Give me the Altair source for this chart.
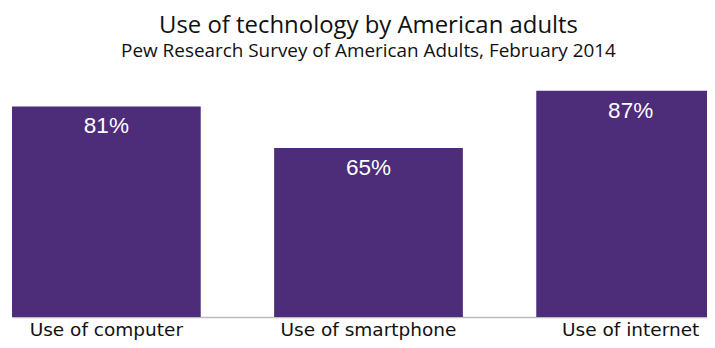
import altair as alt
import pandas as pd

categories = ["Use of computer", "Use of smartphone", "Use of internet"]
values = [81, 65, 87]
value_labels = ["81%", "65%", "87%"]

df = pd.DataFrame({"category": categories, "value": values, "label": value_labels})

PURPLE = "#4d2c7a"

x = alt.X(
    "category:N",
    sort=categories,
    title=None,
    scale=alt.Scale(range=[4, 717], paddingInner=0.28, paddingOuter=0),
    axis=alt.Axis(
        labelAngle=0,
        ticks=False,
        domainColor="#bbbbbb",
        domainWidth=1.5,
        labelFont="DejaVu Sans",
        labelFontSize=18.5,
        labelColor="#111111",
        labelPadding=3,
    ),
)
y = alt.Y("value:Q", scale=alt.Scale(domain=[0, 100], nice=False), axis=None)

bars = alt.Chart(df).mark_bar(color=PURPLE).encode(x=x, y=y)
texts = alt.Chart(df).mark_text(
    color="white", font="Liberation Sans", fontSize=22.5, dy=27, baseline="alphabetic", align="center"
).encode(x=alt.X("category:N", sort=categories), y=alt.Y("value:Q"), text="label:N")

chart = (
    alt.layer(bars, texts)
    .properties(
        width=699,
        height=260,
        autosize=alt.AutoSizeParams(type="none"),
        padding={"top": 49, "left": 0, "right": 0, "bottom": 31},
        title=alt.TitleParams(
            text="Use of technology by American adults",
            subtitle="Pew Research Survey of American Adults, February 2014",
            font="Open Sans",
            fontSize=23.9,
            fontWeight="normal",
            color="#111111",
            subtitleFont="Open Sans",
            subtitleFontSize=18.9,
            subtitleColor="#111111",
            subtitlePadding=4,
            anchor="middle",
            dx=11,
            offset=-4,
        ),
    )
    .configure_view(stroke=None)
)

chart.save("out.html", embed_options={"renderer": "svg", "actions": False})
